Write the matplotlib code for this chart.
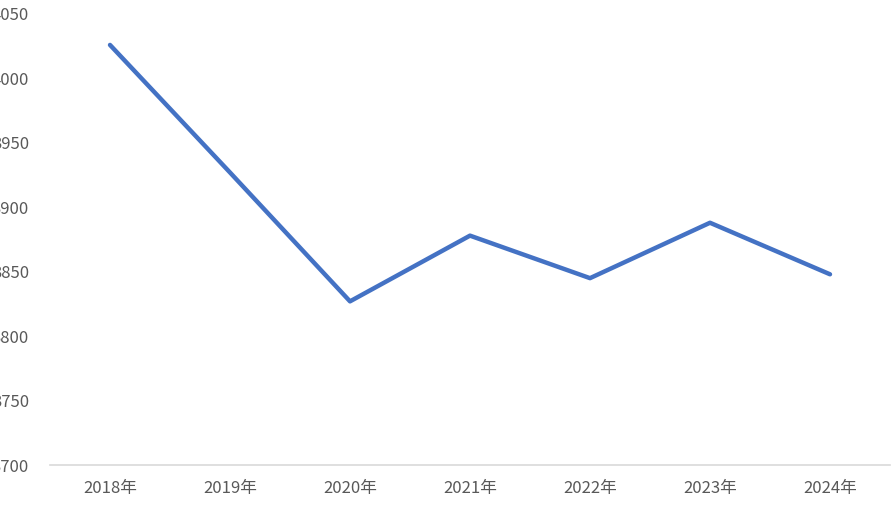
import matplotlib
matplotlib.use('Agg')
import matplotlib.pyplot as plt

plt.rcParams['font.family'] = ['Noto Sans CJK SC', 'DejaVu Sans']

# Data
years = ['2018年', '2019年', '2020年', '2021年', '2022年', '2023年', '2024年']
values = [4026, 3927, 3827, 3878, 3845, 3888, 3848]
y_ticks = [3700, 3750, 3800, 3850, 3900, 3950, 4000, 4050]

fig = plt.figure(figsize=(8.96, 5.08), dpi=100)
ax = fig.add_axes([50 / 896, 1 - 465 / 508, 840 / 896, 451 / 508])

x = list(range(len(years)))
ax.plot(x, values, color='#4472C4', linewidth=3.2, solid_capstyle='round')

ax.set_xlim(-0.5, len(years) - 0.5)
ax.set_ylim(3700, 4050)
ax.set_xticks(x)
ax.set_xticklabels(years)
ax.set_yticks(y_ticks)

for s in ['top', 'right', 'left']:
    ax.spines[s].set_visible(False)
ax.spines['bottom'].set_color('#d9d9d9')
ax.spines['bottom'].set_linewidth(1.2)

ax.tick_params(axis='x', length=0, pad=11, labelsize=12, colors='#595959')
ax.tick_params(axis='y', length=0, pad=15, labelsize=12, colors='#595959')

fig.savefig('out.png', dpi=100)
